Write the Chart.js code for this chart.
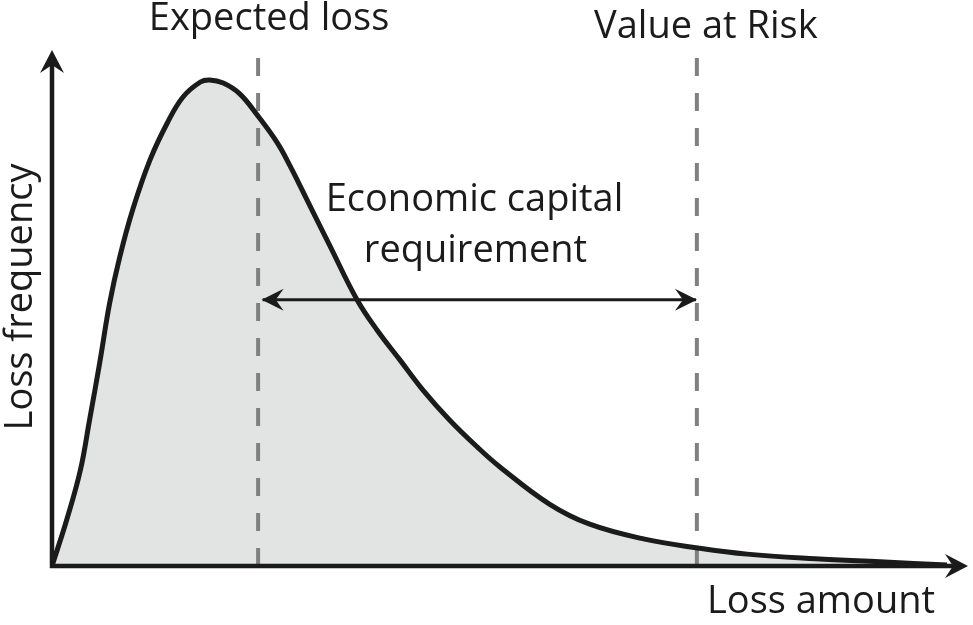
<!DOCTYPE html>
<html>
<head>
<meta charset="utf-8">
<title>Economic capital</title>
<script src="https://cdn.jsdelivr.net/npm/chart.js@4.4.1/dist/chart.umd.min.js"></script>
<style>
  html, body { margin: 0; padding: 0; background: #fff; }
  #wrap { width: 973px; height: 625px; position: relative; }
</style>
</head>
<body>
<div id="wrap"><canvas id="chart"></canvas></div>
<script>
// loss distribution, arbitrary units (0..100 on both axes)
const lossAmount = [0, 1.6, 3.1, 4.1, 5.2, 6.3, 7.4, 8.8, 10.7, 12.6, 14.3, 16.2, 17.2, 18.7, 20.5, 22.4, 24.6, 26.0, 27.1, 28.5, 30.3, 33.3, 35.5, 38.0, 40.5, 43.4, 46.4, 48.9, 54.3, 58.7, 64.7, 70.5, 75.9, 83.3, 90.4, 97.7];
const lossFrequency = [0, 8.9, 18.6, 28.3, 39.3, 51.0, 59.9, 69.0, 78.7, 85.9, 90.9, 93.8, 94.2, 93.6, 91.5, 87.4, 82.0, 77.5, 73.6, 68.6, 62.2, 51.6, 45.7, 39.9, 34.1, 28.3, 23.1, 19.2, 12.0, 8.1, 5.2, 3.5, 2.3, 1.4, 0.8, 0.2];

const expectedLoss = 22.5;
const valueAtRisk = 70.4;
const capitalLevel = 51.6; // height of the double arrow

const markerLabels = ['Expected loss', 'Value at Risk'];
const capitalLabel = ['Economic capital', 'requirement'];
const xTitle = 'Loss amount';
const yTitle = 'Loss frequency';

const INK = '#1b1b1b';
const FONT = '38px "Open Sans", sans-serif';

const curve = lossAmount.map((x, i) => ({ x: x, y: lossFrequency[i] }));

// stealth style arrow head, tip at (x, y), pointing along angle
function arrowHead(ctx, x, y, angle, len, half, notch) {
  ctx.save();
  ctx.translate(x, y);
  ctx.rotate(angle);
  ctx.beginPath();
  ctx.moveTo(0, 0);
  ctx.lineTo(-len, -half);
  ctx.lineTo(-len + notch, 0);
  ctx.lineTo(-len, half);
  ctx.closePath();
  ctx.fillStyle = INK;
  ctx.fill();
  ctx.restore();
}

const decorations = {
  id: 'decorations',
  afterDatasetsDraw(chart) {
    const ctx = chart.ctx;
    const xs = chart.scales.x, ys = chart.scales.y;
    const x0 = xs.getPixelForValue(0), y0 = ys.getPixelForValue(0);
    const xEnd = xs.getPixelForValue(100), yEnd = ys.getPixelForValue(100);

    // axes with arrows
    ctx.save();
    ctx.strokeStyle = INK;
    ctx.lineWidth = 4.5;
    ctx.beginPath();
    ctx.moveTo(x0, y0 + 2);
    ctx.lineTo(x0, yEnd + 12);
    ctx.moveTo(x0 - 2, y0);
    ctx.lineTo(xEnd - 12, y0);
    ctx.stroke();
    ctx.restore();
    arrowHead(ctx, x0, yEnd, -Math.PI / 2, 23, 12, 8);
    arrowHead(ctx, xEnd, y0, 0, 23, 12, 8);

    // heads on the capital arrow
    const pts = chart.getDatasetMeta(3).data;
    arrowHead(ctx, pts[0].x - 1, pts[0].y, Math.PI, 22, 11, 8);
    arrowHead(ctx, pts[1].x + 1, pts[1].y, 0, 22, 11, 8);

    // texts
    ctx.save();
    ctx.fillStyle = INK;
    ctx.font = FONT;
    ctx.textAlign = 'center';
    ctx.textBaseline = 'alphabetic';
    ctx.fillText(markerLabels[0], xs.getPixelForValue(expectedLoss) + 11, 30);
    ctx.fillText(markerLabels[1], xs.getPixelForValue(valueAtRisk) + 9, 38);
    const mid = xs.getPixelForValue((expectedLoss + valueAtRisk) / 2);
    ctx.fillText(capitalLabel[0], mid - 3, 211);
    ctx.fillText(capitalLabel[1], mid - 2, 262);
    ctx.fillText(xTitle, 821, 613);
    ctx.translate(32, 297);
    ctx.rotate(-Math.PI / 2);
    ctx.fillText(yTitle, 0, 0);
    ctx.restore();
  }
};

new Chart(document.getElementById('chart'), {
  type: 'line',
  data: {
    datasets: [
      {
        label: 'Loss distribution',
        data: curve,
        borderColor: INK,
        borderWidth: 5,
        backgroundColor: '#e2e4e3',
        fill: 'origin',
        pointRadius: 0,
        tension: 0.4,
        order: 2
      },
      {
        label: 'Expected loss',
        data: [{ x: expectedLoss, y: 0 }, { x: expectedLoss, y: 100 }],
        borderColor: '#808080',
        borderWidth: 4,
        borderDash: [18, 17],
        pointRadius: 0,
        fill: false,
        order: 3
      },
      {
        label: 'Value at Risk',
        data: [{ x: valueAtRisk, y: 0 }, { x: valueAtRisk, y: 100 }],
        borderColor: '#808080',
        borderWidth: 4,
        borderDash: [18, 17],
        pointRadius: 0,
        fill: false,
        order: 3
      },
      {
        label: 'Economic capital requirement',
        data: [{ x: expectedLoss + 0.5, y: capitalLevel }, { x: valueAtRisk - 0.1, y: capitalLevel }],
        borderColor: INK,
        borderWidth: 3,
        pointRadius: 0,
        fill: false,
        order: 1
      }
    ]
  },
  options: {
    responsive: true,
    maintainAspectRatio: false,
    animation: false,
    layout: { padding: { left: 52, right: 5, top: 50, bottom: 59 } },
    scales: {
      x: { type: 'linear', min: 0, max: 100, display: false },
      y: { type: 'linear', min: 0, max: 100, display: false }
    },
    plugins: {
      legend: { display: false },
      tooltip: { enabled: false },
      filler: { drawTime: 'beforeDatasetsDraw' }
    },
    elements: { line: { borderCapStyle: 'butt' } }
  },
  plugins: [decorations]
});
</script>
</body>
</html>
